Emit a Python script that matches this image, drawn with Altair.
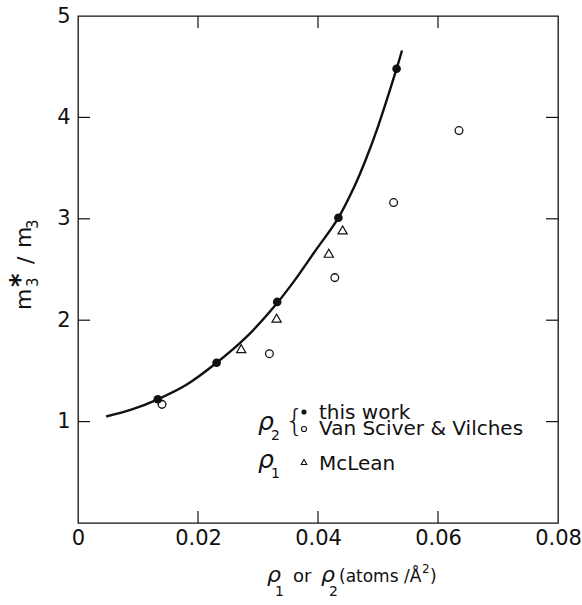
import altair as alt
import pandas as pd

# Effective mass ratio of 3He versus areal density
this_work_x = [0.0133, 0.0231, 0.0332, 0.0434, 0.0531]
this_work_y = [1.22, 1.58, 2.18, 3.01, 4.48]

vsv_x = [0.0140, 0.0319, 0.0428, 0.0526, 0.0635]
vsv_y = [1.17, 1.67, 2.42, 3.16, 3.87]

mclean_x = [0.0272, 0.0331, 0.0418, 0.0441]
mclean_y = [1.72, 2.02, 2.66, 2.89]

curve_x = [0.0047, 0.0090, 0.0133, 0.0180, 0.0231, 0.0280, 0.0332,
           0.0362, 0.0395, 0.0434, 0.0460, 0.0480, 0.0500, 0.0531, 0.0540]
curve_y = [1.05, 1.12, 1.22, 1.36, 1.58, 1.83, 2.17,
           2.40, 2.68, 3.01, 3.31, 3.59, 3.91, 4.48, 4.66]

x_ticks = [0.02, 0.04, 0.06]
y_ticks = [1, 2, 3, 4]
x_labels = [0, 0.02, 0.04, 0.06, 0.08]
y_labels = [0, 1, 2, 3, 4, 5]

W, H = 480, 507
FONT = "DejaVu Sans"
INK = "#111111"

xs = alt.Scale(domain=[0, 0.08], nice=False, zero=False)
ys = alt.Scale(domain=[0, 5], nice=False, zero=False)

x_axis = alt.Axis(
    values=x_labels, grid=False, ticks=False, domain=False, title=None,
    labelExpr="datum.value == 0 ? '0' : format(datum.value, '.2f')",
    labelFont=FONT, labelFontSize=21, labelColor=INK, labelPadding=4,
    labelFlush=False,
)
y_axis = alt.Axis(
    values=y_labels, grid=False, ticks=False, domain=False, title=None,
    labelExpr="datum.value == 0 ? '' : format(datum.value, 'd')",
    labelFont=FONT, labelFontSize=21, labelColor=INK, labelPadding=8,
    labelFlush=False,
)

curve = pd.DataFrame({"x": curve_x, "y": curve_y})
tw = pd.DataFrame({"x": this_work_x, "y": this_work_y})
vsv = pd.DataFrame({"x": vsv_x, "y": vsv_y})
mcl = pd.DataFrame({"x": mclean_x, "y": mclean_y})

line = alt.Chart(curve).mark_line(
    color=INK, strokeWidth=2.4, interpolate="catmull-rom"
).encode(
    x=alt.X("x:Q", scale=xs, axis=x_axis),
    y=alt.Y("y:Q", scale=ys, axis=y_axis),
)

filled = alt.Chart(tw).mark_point(
    shape="circle", filled=True, color=INK, size=75, opacity=1
).encode(x=alt.X("x:Q", scale=xs), y=alt.Y("y:Q", scale=ys))

opened = alt.Chart(vsv).mark_point(
    shape="circle", filled=False, color=INK, size=60, strokeWidth=1.3,
    fill="white", fillOpacity=1, opacity=1
).encode(x=alt.X("x:Q", scale=xs), y=alt.Y("y:Q", scale=ys))

tris = alt.Chart(mcl).mark_point(
    shape="triangle-up", filled=False, color=INK, size=85, strokeWidth=1.2,
    opacity=1
).encode(x=alt.X("x:Q", scale=xs), y=alt.Y("y:Q", scale=ys))

# inward tick marks on all four sides of the frame
xt = pd.DataFrame({"v": x_ticks})
yt = pd.DataFrame({"v": y_ticks})
tick_style = dict(color=INK, strokeWidth=1.2)
bottom_ticks = alt.Chart(xt).mark_rule(**tick_style).encode(
    x=alt.X("v:Q", scale=xs), y=alt.value(H), y2=alt.value(H - 12))
top_ticks = alt.Chart(xt).mark_rule(**tick_style).encode(
    x=alt.X("v:Q", scale=xs), y=alt.value(0), y2=alt.value(12))
left_ticks = alt.Chart(yt).mark_rule(**tick_style).encode(
    y=alt.Y("v:Q", scale=ys), x=alt.value(0), x2=alt.value(12))
right_ticks = alt.Chart(yt).mark_rule(**tick_style).encode(
    y=alt.Y("v:Q", scale=ys), x=alt.value(W), x2=alt.value(W - 12))

one = pd.DataFrame({"a": [0]})


def txt(text, x, y, size=19, style="normal", weight="normal", angle=0,
        align="left", baseline="alphabetic"):
    return alt.Chart(one).mark_text(
        text=text, font=FONT, fontSize=size, fontStyle=style,
        fontWeight=weight, color=INK, align=align, baseline=baseline,
        angle=angle,
    ).encode(x=alt.value(x), y=alt.value(y))


def sym(shape, filled, size, x, y):
    return alt.Chart(one).mark_point(
        shape=shape, filled=filled, color=INK, size=size, strokeWidth=1.1,
        opacity=1
    ).encode(x=alt.value(x), y=alt.value(y))


# key drawn inside the plot area
key_labels = ["this work", "Van Sciver & Vilches", "McLean"]
keys = [
    sym("circle", True, 26, 226, 396),
    sym("circle", False, 26, 226, 413),
    sym("triangle-up", False, 32, 226, 446),
    txt(key_labels[0], 241, 403, size=20),
    txt(key_labels[1], 241, 419, size=20),
    txt(key_labels[2], 241, 454, size=20),
    txt("ρ", 180, 414, size=25, style="italic"),
    txt("2", 193, 424, size=14),
    txt("{", 207, 415, size=30, weight=300),
    txt("ρ", 180, 452, size=25, style="italic"),
    txt("1", 193, 462, size=14),
]

# x-axis title: rho_1 or rho_2 (atoms / A^2)
xb, xsb = 566, 580
x_title = [
    txt("ρ", 189, xb, size=22, style="italic"),
    txt("1", 197, xsb, size=14),
    txt("or", 215, xb, size=18),
    txt("ρ", 243, xb, size=22, style="italic"),
    txt("2", 251, xsb, size=14),
    txt("(atoms /Å", 261, xb, size=17),
    txt("2", 344, xb - 9, size=12),
    txt(")", 352, xb, size=17),
]

# y-axis title: m*_3 / m_3, rotated to read upward
y_title = [
    txt("m", -47, 294, size=22, angle=270),
    txt("3", -40, 271, size=15, angle=270),
    txt("*", -49, 271, size=26, weight="bold", angle=270),
    txt("/", -45, 248, size=22, angle=270),
    txt("m", -47, 232, size=22, angle=270),
    txt("3", -40, 213, size=15, angle=270),
]

chart = alt.layer(
    line, bottom_ticks, top_ticks, left_ticks, right_ticks,
    tris, opened, filled, *keys, *x_title, *y_title
).properties(
    width=W, height=H,
    autosize=alt.AutoSizeParams(type="none"),
    padding={"left": 78, "top": 16, "right": 24, "bottom": 82},
    background="white",
).configure_view(
    stroke=INK, strokeWidth=1.3
)

chart.save("out.html", embed_options={"renderer": "svg", "actions": False})
